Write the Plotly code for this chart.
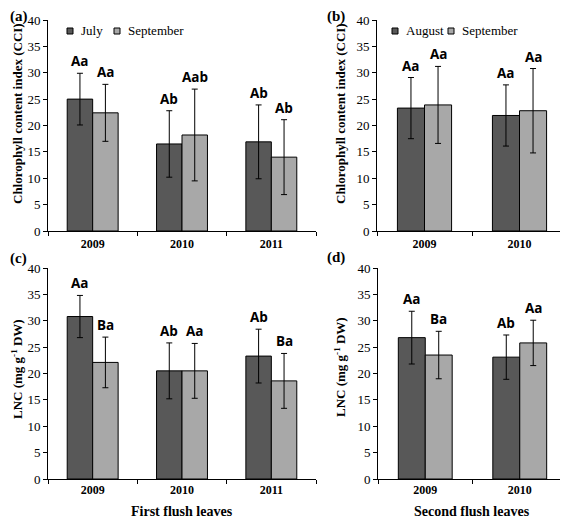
import plotly.graph_objects as go

# ---------------- data ----------------
years_first = ["2009", "2010", "2011"]
years_second = ["2009", "2010"]

cci_first_july = [25.0, 16.5, 16.9]
cci_first_july_err = [4.9, 6.3, 7.0]
cci_first_sep = [22.4, 18.2, 14.0]
cci_first_sep_err = [5.4, 8.7, 7.1]
cci_first_july_lbl = ["Aa", "Ab", "Ab"]
cci_first_sep_lbl = ["Aa", "Aab", "Ab"]

cci_second_aug = [23.3, 21.9]
cci_second_aug_err = [5.8, 5.8]
cci_second_sep = [23.9, 22.8]
cci_second_sep_err = [7.3, 8.0]
cci_second_aug_lbl = ["Aa", "Aa"]
cci_second_sep_lbl = ["Aa", "Aa"]

lnc_first_july = [30.8, 20.5, 23.3]
lnc_first_july_err = [4.0, 5.3, 5.1]
lnc_first_sep = [22.1, 20.5, 18.6]
lnc_first_sep_err = [4.8, 5.2, 5.2]
lnc_first_july_lbl = ["Aa", "Ab", "Ab"]
lnc_first_sep_lbl = ["Ba", "Aa", "Ba"]

lnc_second_aug = [26.8, 23.1]
lnc_second_aug_err = [5.0, 4.2]
lnc_second_sep = [23.5, 25.8]
lnc_second_sep_err = [4.5, 4.3]
lnc_second_aug_lbl = ["Aa", "Ab"]
lnc_second_sep_lbl = ["Ba", "Aa"]

legend_first = ["July", "September"]
legend_second = ["August", "September"]

# ---------------- style ----------------
# page has an 8px body margin: figure occupies page pixels 8..568 x 8..521
OFF = 8
W, H = 568 - OFF, 521 - OFF
DARK = "#585858"
LIGHT = "#a8a8a8"
SERIF = "Liberation Serif"
SANS = "Open Sans"
BARGAP = 0.43

def px_x(p):
    return max(p - OFF, 0) / W

def px_y(p):
    return 1 - (p - OFF) / H

xdom = {1: [48, 316], 2: [377, 567], 3: [48, 316], 4: [378, 567]}
ydom = {1: [20, 231], 2: [20, 231], 3: [268, 479], 4: [268, 479]}

fig = go.Figure()

panels = [
    (1, years_first, legend_first, cci_first_july, cci_first_july_err, cci_first_sep,
     cci_first_sep_err, cci_first_july_lbl, cci_first_sep_lbl),
    (2, years_second, legend_second, cci_second_aug, cci_second_aug_err, cci_second_sep,
     cci_second_sep_err, cci_second_aug_lbl, cci_second_sep_lbl),
    (3, years_first, legend_first, lnc_first_july, lnc_first_july_err, lnc_first_sep,
     lnc_first_sep_err, lnc_first_july_lbl, lnc_first_sep_lbl),
    (4, years_second, legend_second, lnc_second_aug, lnc_second_aug_err, lnc_second_sep,
     lnc_second_sep_err, lnc_second_aug_lbl, lnc_second_sep_lbl),
]

annotations = []
shapes = []
ncats = {}
for idx, cats, names, v1, e1, v2, e2, l1, l2 in panels:
    ncats[idx] = len(cats)
    xa = "x" if idx == 1 else f"x{idx}"
    ya = "y" if idx == 1 else f"y{idx}"
    for name, vals, errs, col in ((names[0], v1, e1, DARK), (names[1], v2, e2, LIGHT)):
        fig.add_trace(go.Bar(
            x=cats, y=vals, xaxis=xa, yaxis=ya, name=name,
            marker=dict(color=col, line=dict(color="black", width=1)),
            error_y=dict(type="data", array=errs, color="black", thickness=1, width=3),
            showlegend=False, hoverinfo="skip",
        ))
    cat_px = (xdom[idx][1] - xdom[idx][0]) / len(cats)
    half = cat_px * (1 - BARGAP) / 4
    for vals, errs, lbls, sh in ((v1, e1, l1, -half), (v2, e2, l2, half)):
        for i, (v, e, t) in enumerate(zip(vals, errs, lbls)):
            annotations.append(dict(
                x=i, y=v + e, xref=xa, yref=ya, text=t, showarrow=False,
                xshift=sh, yshift=12, yanchor="middle",
                font=dict(family=SANS, size=13.5, color="black", weight="bold"),
            ))

# legends (top panels): small squares + serif text
for names, items in ((legend_first, ((67, 79), (114, 126))),
                     (legend_second, ((392, 404), (448, 460)))):
    for name, col, (sqx, tx) in zip(names, (DARK, LIGHT), items):
        shapes.append(dict(
            type="rect", xref="paper", yref="paper",
            x0=px_x(sqx), x1=px_x(sqx + 6), y0=px_y(34), y1=px_y(28),
            fillcolor=col, line=dict(color="black", width=1),
        ))
        annotations.append(dict(
            x=px_x(tx), y=px_y(31), xref="paper", yref="paper", text=name,
            showarrow=False, xanchor="left", yanchor="middle",
            font=dict(family=SERIF, size=13, color="black"),
        ))

axis_common_y = dict(
    range=[0, 40], dtick=5, showgrid=False, zeroline=False,
    showline=True, linecolor="black", linewidth=1,
    ticks="outside", ticklen=4, tickcolor="black", automargin=False,
    tickfont=dict(family=SERIF, size=13, color="black"),
)
axis_common_x = dict(
    type="category", showgrid=False, zeroline=False,
    showline=True, linecolor="black", linewidth=1, automargin=False,
    ticks="outside", ticklen=4, tickcolor="black", tickson="boundaries",
    tickfont=dict(family=SERIF, size=12, color="black", weight="bold"),
)

layout = dict(
    width=W, height=H, autosize=False,
    margin=dict(l=0, r=0, t=0, b=0, pad=0, autoexpand=False),
    paper_bgcolor="white", plot_bgcolor="white",
    barmode="group", bargap=BARGAP, bargroupgap=0, showlegend=False,
)
for idx in (1, 2, 3, 4):
    sx = "" if idx == 1 else str(idx)
    xd = [px_x(xdom[idx][0]), min(px_x(xdom[idx][1]), 1)]
    yd = [px_y(ydom[idx][1]), px_y(ydom[idx][0])]
    layout[f"xaxis{sx}"] = dict(axis_common_x, domain=xd, anchor=f"y{sx}",
                                range=[-0.5, ncats[idx] - 0.5],
                                ticklabelstandoff=2 if idx in (1, 2) else 0)
    layout[f"yaxis{sx}"] = dict(axis_common_y, domain=yd, anchor=f"x{sx}")

# panel letters
for t, x, y in (("(a)", 0, 16), ("(b)", 325, 16), ("(c)", 0, 258), ("(d)", 325, 257)):
    annotations.append(dict(
        x=px_x(x), y=px_y(y), xref="paper", yref="paper", text=t, showarrow=False,
        xanchor="left", yanchor="middle",
        font=dict(family=SERIF, size=15, color="black", weight="bold"),
    ))

# y titles
for t, x, y in (("Chlorophyll content index (CCI)", 17, 114),
                ("Chlorophyll content index (CCI)", 340, 114),
                ("LNC (mg g<sup>-1</sup> DW)", 17, 369),
                ("LNC (mg g<sup>-1</sup> DW)", 340, 367)):
    annotations.append(dict(
        x=px_x(x), y=px_y(y), xref="paper", yref="paper", text=t, showarrow=False,
        textangle=-90, xanchor="center", yanchor="middle",
        font=dict(family=SERIF, size=13, color="black", weight="bold"),
    ))

# x titles
for t, x, y in (("First flush leaves", 182, 511), ("Second flush leaves", 472, 511)):
    annotations.append(dict(
        x=px_x(x), y=px_y(y), xref="paper", yref="paper", text=t, showarrow=False,
        xanchor="center", yanchor="middle",
        font=dict(family=SERIF, size=14, color="black", weight="bold"),
    ))

layout["annotations"] = annotations
layout["shapes"] = shapes
fig.update_layout(**layout)
fig.write_html("out.html")
